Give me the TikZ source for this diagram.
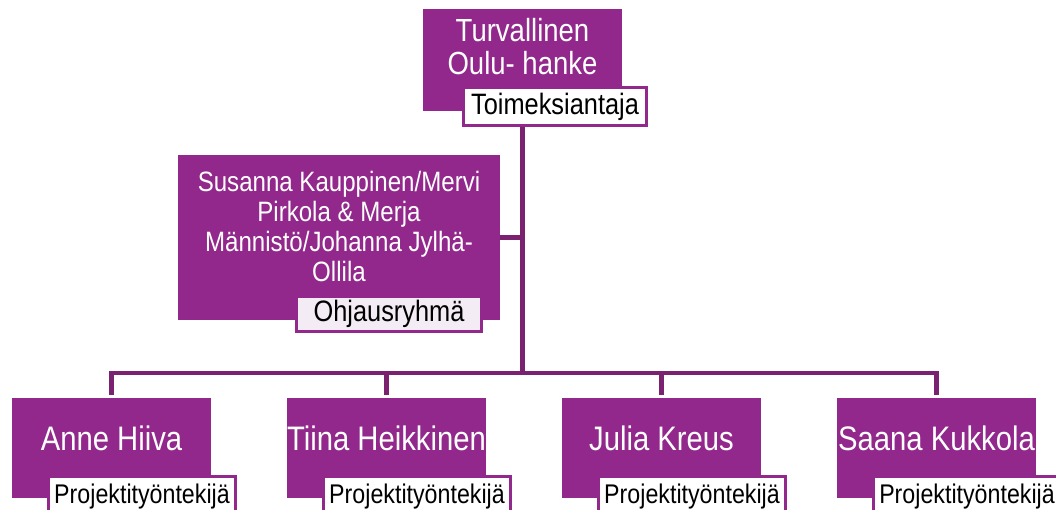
\documentclass[tikz,border=0pt]{standalone}
\usepackage{fontspec}
\setmainfont[FakeStretch=0.86]{Liberation Sans}
\usetikzlibrary{backgrounds}
\definecolor{boxpurple}{RGB}{146,40,140}
\definecolor{linepurple}{RGB}{122,34,112}
\definecolor{lblfill}{RGB}{255,255,255}
\definecolor{lblfilltwo}{RGB}{244,236,244}
\begin{document}
\begin{tikzpicture}[x=1pt,y=-1pt,
  pbox/.style={fill=boxpurple, inner sep=0pt, outer sep=0pt, anchor=north west},
  boxtext/.style={text=white, inner sep=0pt, anchor=base, align=center},
  lbl/.style={draw=boxpurple, line width=3pt, fill=lblfill, inner sep=0pt, outer sep=0pt,
    anchor=north west, text=black, font=\fontsize{27}{30}\selectfont},
  conn/.style={draw=linepurple, line width=4.5pt, line join=miter, line cap=rect}]
\useasboundingbox (0,0) rectangle (1056,510);
\clip (0,0) rectangle (1056,510);

% top
\node[pbox, minimum width=199pt, minimum height=102pt] (top) at (423,9) {};
\node[boxtext, font=\fontsize{32}{33}\selectfont] (toptext) at (522.5,42) {Turvallinen};
\node[boxtext, font=\fontsize{32}{33}\selectfont] (toptexttwo) at (522.5,75) {Oulu- hanke};
\node[lbl, font=\fontsize{29.5}{30}\selectfont, minimum width=183pt, minimum height=38pt] (toplbl) at (463.5,87.5) {Toimeksiantaja};

% middle
\node[pbox, minimum width=322pt, minimum height=165pt] (mid) at (178,155) {};
\node[boxtext, font=\fontsize{28}{30}\selectfont] (midtexta) at (339,192) {Susanna Kauppinen/Mervi};
\node[boxtext, font=\fontsize{28}{30}\selectfont] (midtextb) at (339,222) {Pirkola \& Merja};
\node[boxtext, font=\fontsize{28}{30}\selectfont] (midtextc) at (339,252) {Männistö/Johanna Jylhä-};
\node[boxtext, font=\fontsize{28}{30}\selectfont] (midtextd) at (339,281) {Ollila};
\node[lbl, font=\fontsize{29.5}{30}\selectfont, fill=lblfilltwo, minimum width=185pt, minimum height=35pt] (midlbl) at (296.5,296.5) {Ohjausryhmä};

% bottom
\foreach \i/\x/\name in {1/12/Anne Hiiva, 2/287/Tiina Heikkinen, 3/562/Julia Kreus, 4/837/Saana Kukkola}{
  \node[pbox, minimum width=199pt, minimum height=100pt] (b\i) at (\x,398) {};
  \node[boxtext, font=\fontsize{34}{36}\selectfont] (bt\i) at (\x+99.5,450) {\name};
  \node[lbl, minimum width=187pt, minimum height=40pt] (bl\i) at (\x+36.5,476.5) {Projektityöntekijä};
}

\coordinate (hub) at (522.5,373);

\begin{scope}[on background layer]
  \draw[conn] (top.south) -- (hub);
  \draw[conn] (mid.east) -- (mid.east -| hub);
  \draw[conn, shorten <=5pt, shorten >=5pt] (b1.north) -- (b1.north |- hub) -- (b4.north |- hub) -- (b4.north);
  \draw[conn, shorten >=5pt] (b2.north |- hub) -- (b2.north);
  \draw[conn, shorten >=5pt] (b3.north |- hub) -- (b3.north);
\end{scope}
\end{tikzpicture}
\end{document}
